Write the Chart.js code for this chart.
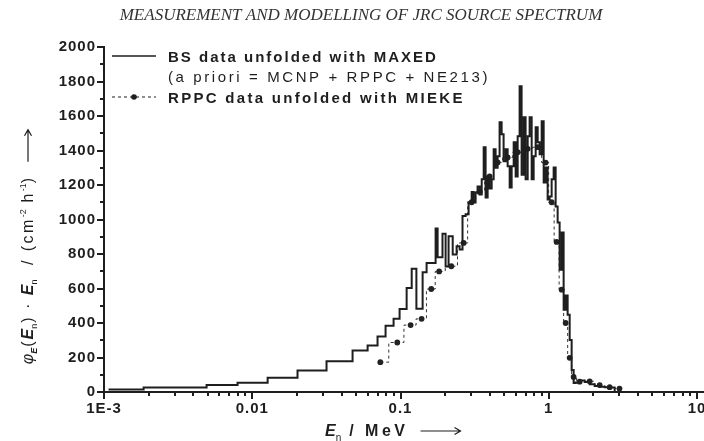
<!DOCTYPE html>
<html>
<head>
<meta charset="utf-8">
<script src="https://cdn.jsdelivr.net/npm/chart.js@4.4.0/dist/chart.umd.min.js"></script>
<style>
  html, body { margin: 0; padding: 0; background: #fff; }
  #wrap { width: 704px; height: 441px; }
</style>
</head>
<body>
<div id="wrap"><canvas id="spectrum"></canvas></div>
<script>
// BS spectrum (MAXED): bin edges in MeV and E*phi_E per bin
const bsEdges = [
  0.00109, 0.00185, 0.00492, 0.00796, 0.0127, 0.0202, 0.0317, 0.0475, 0.0600, 0.0700,
  0.0793, 0.0898, 0.0986, 0.110, 0.119, 0.128, 0.141, 0.150, 0.1725, 0.178,
  0.192, 0.2015, 0.211, 0.225, 0.239, 0.2505, 0.262, 0.275, 0.288, 0.302,
  0.311, 0.321, 0.331, 0.342, 0.353, 0.364, 0.375, 0.387, 0.399, 0.412,
  0.425, 0.438, 0.452, 0.466, 0.481, 0.496, 0.512, 0.528, 0.545, 0.562,
  0.580, 0.598, 0.617, 0.636, 0.656, 0.677, 0.698, 0.721, 0.743, 0.767,
  0.791, 0.816, 0.842, 0.868, 0.896, 0.924, 0.953, 0.983, 1.014, 1.046,
  1.079, 1.113, 1.148, 1.184, 1.222, 1.260, 1.300, 1.341, 1.384, 1.427,
  1.472, 1.519, 1.616, 1.747, 1.888, 2.040, 2.206, 2.384, 2.576, 2.784,
  3.0
];
const bsFlux = [
  8, 15, 26, 41, 53, 82, 125, 178, 240, 270,
  322, 384, 424, 481, 603, 715, 482, 694, 748, 948,
  781, 917, 728, 903, 797, 845, 826, 1020, 1030, 1100,
  1160, 1099, 1157, 1192, 1145, 1233, 1419, 1128, 1250, 1180,
  1233, 1407, 1300, 1366, 1564, 1494, 1337, 1407, 1308, 1186,
  1308, 1448, 1250, 1483, 1773, 1260, 1593, 1233, 1483, 1593,
  1233, 1366, 1535, 1448, 1378, 1570, 1215, 1302, 1116, 1134,
  1233, 1302, 1076, 983, 709, 924, 477, 560, 448, 302,
  128, 52, 55, 66, 58, 45, 35, 30, 28, 26
];

// RPPC spectrum (MIEKE): bin centres in MeV and E*phi_E
const rppcEnergy = [
  0.0731, 0.0951, 0.117, 0.1388, 0.1613, 0.1822, 0.2202, 0.2666, 0.3018, 0.3418,
  0.3993, 0.4521, 0.5281, 0.6168, 0.7205, 0.8416, 0.953, 1.046, 1.13, 1.222,
  1.30, 1.384, 1.472, 1.616, 1.888, 2.206, 2.576, 3.0
];
const rppcFlux = [
  173, 287, 388, 424, 597, 699, 729, 864, 1100, 1160,
  1250, 1331, 1360, 1390, 1410, 1419, 1330, 1100, 870, 593,
  400, 198, 87, 60, 62, 40, 28, 20
];

const xTickValues = [0.001, 0.01, 0.1, 1, 10];
const xTickLabels = ['1E-3', '0.01', '0.1', '1', '10'];

const INK = '#1e1e1e';
const SANS = '"Liberation Sans", Arial, sans-serif';

// histogram as stepped line: left edge of each bin, closing at the last edge
const bsPoints = bsFlux.map((v, i) => ({ x: bsEdges[i], y: v }));
bsPoints.push({ x: bsEdges[bsEdges.length - 1], y: 0 });

const rppcPoints = rppcEnergy.map((e, i) => ({ x: e, y: rppcFlux[i] }));

// "——>" style arrow used after the axis titles
function drawArrow(ctx, x, y, len) {
  ctx.save();
  ctx.lineWidth = 1.2;
  ctx.beginPath();
  ctx.moveTo(x, y);
  ctx.lineTo(x + len - 1, y);
  ctx.moveTo(x + len - 6, y - 3.5);
  ctx.lineTo(x + len, y);
  ctx.lineTo(x + len - 6, y + 3.5);
  ctx.stroke();
  ctx.restore();
}

function drawParts(ctx, parts, x, y) {
  let cx = x;
  for (const p of parts) {
    if (p.arrow) {
      drawArrow(ctx, cx, y + (p.dy || 0), p.arrow);
      cx += p.arrow;
      continue;
    }
    ctx.font = p.font;
    ctx.letterSpacing = p.ls || '0px';
    ctx.fillText(p.text, cx, y + (p.dy || 0));
    cx += ctx.measureText(p.text).width + (p.gap || 0);
  }
  return cx - x;
}
function partsWidth(ctx, parts) {
  let w = 0;
  for (const p of parts) {
    if (p.arrow) { w += p.arrow; continue; }
    ctx.font = p.font;
    ctx.letterSpacing = p.ls || '0px';
    w += ctx.measureText(p.text).width + (p.gap || 0);
  }
  return w;
}

const decor = {
  id: 'decor',
  beforeDraw(chart) {
    chart.ctx.letterSpacing = '1px';
  },
  afterDraw(chart) {
    const { ctx, chartArea: a, scales: { x, y } } = chart;
    ctx.save();
    ctx.strokeStyle = INK;
    ctx.fillStyle = INK;
    ctx.lineWidth = 2;

    // bottom axis runs on to the page edge
    ctx.beginPath();
    ctx.moveTo(a.right, a.bottom);
    ctx.lineTo(chart.width, a.bottom);
    ctx.stroke();

    // log tick marks, longer at each decade
    ctx.beginPath();
    for (let e = -3; e <= 1; e++) {
      for (let m = 1; m <= 9; m++) {
        const v = m * Math.pow(10, e);
        if (v > 10.0001) break;
        const px = Math.round(x.getPixelForValue(v));
        const len = m === 1 ? 7 : 4;
        ctx.moveTo(px, a.bottom);
        ctx.lineTo(px, a.bottom + len);
      }
    }
    // y tick marks every 100, longer at labelled ones
    for (let v = 0; v <= 2000; v += 100) {
      const py = Math.round(y.getPixelForValue(v));
      const len = v % 200 === 0 ? 7 : 4;
      ctx.moveTo(a.left - len, py);
      ctx.lineTo(a.left, py);
    }
    ctx.stroke();

    // page heading
    ctx.fillStyle = '#333';
    ctx.font = 'italic 17px "Liberation Serif", serif';
    ctx.letterSpacing = '0px';
    ctx.textAlign = 'center';
    ctx.textBaseline = 'alphabetic';
    ctx.fillText('MEASUREMENT AND MODELLING OF JRC SOURCE SPECTRUM', 361, 20);

    // legend
    ctx.textAlign = 'left';
    ctx.fillStyle = INK;
    ctx.lineWidth = 1.5;
    ctx.beginPath();
    ctx.moveTo(112, 56);
    ctx.lineTo(156, 56);
    ctx.stroke();
    ctx.lineWidth = 1;
    ctx.setLineDash([3, 3]);
    ctx.beginPath();
    ctx.moveTo(112, 97);
    ctx.lineTo(156, 97);
    ctx.stroke();
    ctx.setLineDash([]);
    ctx.beginPath();
    ctx.arc(134, 97, 2.8, 0, Math.PI * 2);
    ctx.fill();

    ctx.font = 'bold 15px ' + SANS;
    ctx.letterSpacing = '2px';
    ctx.fillText('BS data unfolded with MAXED', 168, 62);
    ctx.font = '15px ' + SANS;
    ctx.letterSpacing = '2.6px';
    ctx.fillText('(a priori = MCNP + RPPC + NE213)', 168, 82);
    ctx.font = 'bold 15px ' + SANS;
    ctx.letterSpacing = '2.3px';
    ctx.fillText('RPPC data unfolded with MIEKE', 168, 103);

    // x axis title
    const xParts = [
      { text: 'E', font: 'italic bold 16px ' + SANS },
      { text: 'n', font: '10px ' + SANS, dy: 5, gap: 8 },
      { text: '/ MeV', font: 'bold 16px ' + SANS, ls: '3.5px', gap: 12 },
      { arrow: 40, dy: -5 }
    ];
    drawParts(ctx, xParts, 325, 436);

    // y axis title, rotated
    const yParts = [
      { text: 'φ', font: 'italic 16px ' + SANS },
      { text: 'E', font: 'italic bold 9px ' + SANS, dy: 4, gap: 1 },
      { text: '(', font: '16px ' + SANS, ls: '2px' },
      { text: 'E', font: 'italic bold 16px ' + SANS },
      { text: 'n', font: '9px ' + SANS, dy: 4, gap: 1 },
      { text: ')', font: '16px ' + SANS, ls: '2px' },
      { text: ' · ', font: '16px ' + SANS, ls: '2px' },
      { text: 'E', font: 'italic bold 16px ' + SANS },
      { text: 'n', font: '9px ' + SANS, dy: 4, gap: 1 },
      { text: '  / (cm', font: '16px ' + SANS, ls: '2.4px' },
      { text: '-2', font: '9px ' + SANS, dy: -7 },
      { text: ' h', font: '16px ' + SANS, ls: '2.4px' },
      { text: '-1', font: '9px ' + SANS, dy: -7 },
      { text: ')  ', font: '16px ' + SANS, ls: '2.4px' },
      { arrow: 32, dy: -5 }
    ];
    const w = partsWidth(ctx, yParts);
    ctx.translate(33, 247);
    ctx.rotate(-Math.PI / 2);
    drawParts(ctx, yParts, -w / 2, 0);
    ctx.restore();
  }
};

new Chart(document.getElementById('spectrum'), {
  type: 'line',
  data: {
    datasets: [
      {
        label: 'BS data unfolded with MAXED',
        data: bsPoints,
        stepped: 'after',
        borderColor: INK,
        borderWidth: 2,
        pointRadius: 0,
        fill: false
      },
      {
        label: 'RPPC data unfolded with MIEKE',
        data: rppcPoints,
        stepped: 'middle',
        borderColor: '#333',
        borderWidth: 1,
        borderDash: [3, 3],
        pointRadius: 2.9,
        pointBackgroundColor: '#222',
        pointBorderWidth: 0,
        fill: false
      }
    ]
  },
  options: {
    responsive: true,
    maintainAspectRatio: false,
    animation: false,
    devicePixelRatio: 1,
    layout: { padding: { top: 47, right: 7, bottom: 0, left: 0 } },
    plugins: {
      legend: { display: false },
      tooltip: { enabled: false },
      title: { display: false }
    },
    scales: {
      x: {
        type: 'logarithmic',
        min: 0.001,
        max: 10,
        border: { display: true, width: 2, color: INK },
        grid: { display: false, drawTicks: false },
        afterBuildTicks: (s) => { s.ticks = xTickValues.map(v => ({ value: v, major: true })); },
        ticks: {
          autoSkip: false,
          maxRotation: 0,
          padding: 8,
          color: INK,
          font: { family: SANS, size: 15, weight: 'bold' },
          callback: (v, i) => xTickLabels[i]
        },
        afterFit: (s) => { s.height = 49; s.paddingLeft = 0; s.paddingRight = 0; }
      },
      y: {
        type: 'linear',
        min: 0,
        max: 2000,
        border: { display: true, width: 2, color: INK },
        grid: { display: false, drawTicks: false },
        ticks: {
          stepSize: 200,
          padding: 8,
          color: INK,
          font: { family: SANS, size: 15, weight: 'bold' },
          callback: (v) => String(v)
        },
        afterFit: (s) => { s.width = 104; s.paddingTop = 0; s.paddingBottom = 0; }
      }
    }
  },
  plugins: [decor]
});
</script>
</body>
</html>
